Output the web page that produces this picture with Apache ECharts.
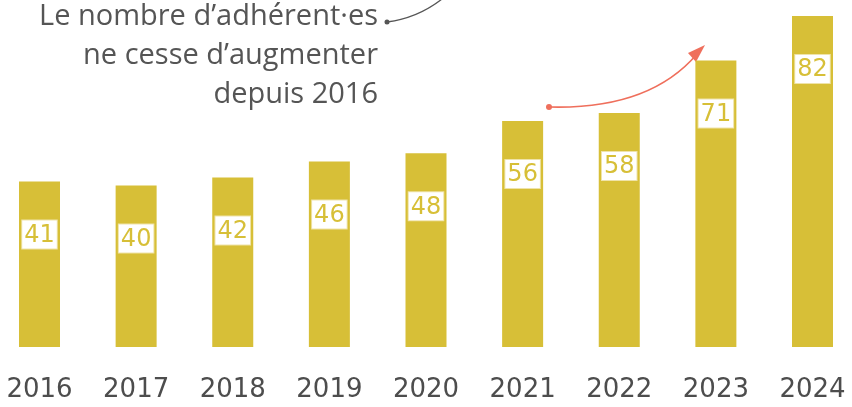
<!DOCTYPE html>
<html>
<head>
<meta charset="utf-8">
<script src="https://cdn.jsdelivr.net/npm/echarts@6/dist/echarts.min.js"></script>
<style>
  html, body { margin: 0; padding: 0; background: #fff; }
  #chart { width: 852px; height: 407px; }
</style>
</head>
<body>
<div id="chart"></div>
<script>
const years = ['2016', '2017', '2018', '2019', '2020', '2021', '2022', '2023', '2024']
const members = [41, 40, 42, 46, 48, 56, 58, 71, 82]
const noteLines = ['Le nombre d\u2019adhérent·es', 'ne cesse d\u2019augmenter', 'depuis 2016']

const gold = '#d7bf37'
const ink = '#4d4d4d'
const coral = '#ef6f5c'

const chart = echarts.init(document.getElementById('chart'))

// annotation text, right aligned against x=378
const noteText = noteLines.map((line, i) => ({
  type: 'text',
  x: 378,
  y: 2 + i * 39,
  style: {
    text: line,
    align: 'right',
    verticalAlign: 'top',
    fill: '#555',
    fontFamily: 'Open Sans',
    fontSize: 29
  }
}))

const option = {
  animation: false,
  grid: { left: 39.5, right: 39.5, top: 4, bottom: 60 },
  xAxis: {
    type: 'category',
    data: years,
    boundaryGap: false,
    axisLine: { show: false },
    axisTick: { show: false },
    axisLabel: {
      margin: 30,
      color: ink,
      fontFamily: 'DejaVu Sans',
      fontSize: 26
    }
  },
  yAxis: {
    type: 'value',
    min: 0,
    max: 85,
    show: false,
    splitLine: { show: false }
  },
  series: [{
    type: 'bar',
    data: members,
    barWidth: 41,
    itemStyle: { color: gold },
    label: {
      show: true,
      position: 'insideTop',
      distance: 39,
      color: gold,
      fontFamily: 'DejaVu Sans',
      fontSize: 24,
      backgroundColor: '#fff',
      borderColor: '#efe3a8',
      borderWidth: 1,
      padding: [3, 2, 1, 2]
    }
  }],
  graphic: noteText.concat([
    {
      type: 'circle',
      shape: { cx: 387, cy: 22, r: 2.5 },
      style: { fill: '#555' }
    },
    {
      type: 'bezierCurve',
      shape: { x1: 387, y1: 22, cpx1: 410, cpy1: 19, cpx2: 428, cpy2: 10, x2: 442, y2: -1 },
      style: { stroke: '#555', lineWidth: 1.3, fill: null }
    },
    {
      type: 'circle',
      shape: { cx: 549, cy: 107, r: 3 },
      style: { fill: coral }
    },
    {
      type: 'bezierCurve',
      shape: { x1: 549, y1: 107, cpx1: 620, cpy1: 109, cpx2: 668, cpy2: 88, x2: 697, y2: 54 },
      style: { stroke: coral, lineWidth: 1.6, fill: null }
    },
    {
      type: 'polygon',
      shape: { points: [[705, 45], [688, 53], [696, 62]] },
      style: { fill: coral }
    }
  ])
}

chart.setOption(option)
</script>
</body>
</html>
